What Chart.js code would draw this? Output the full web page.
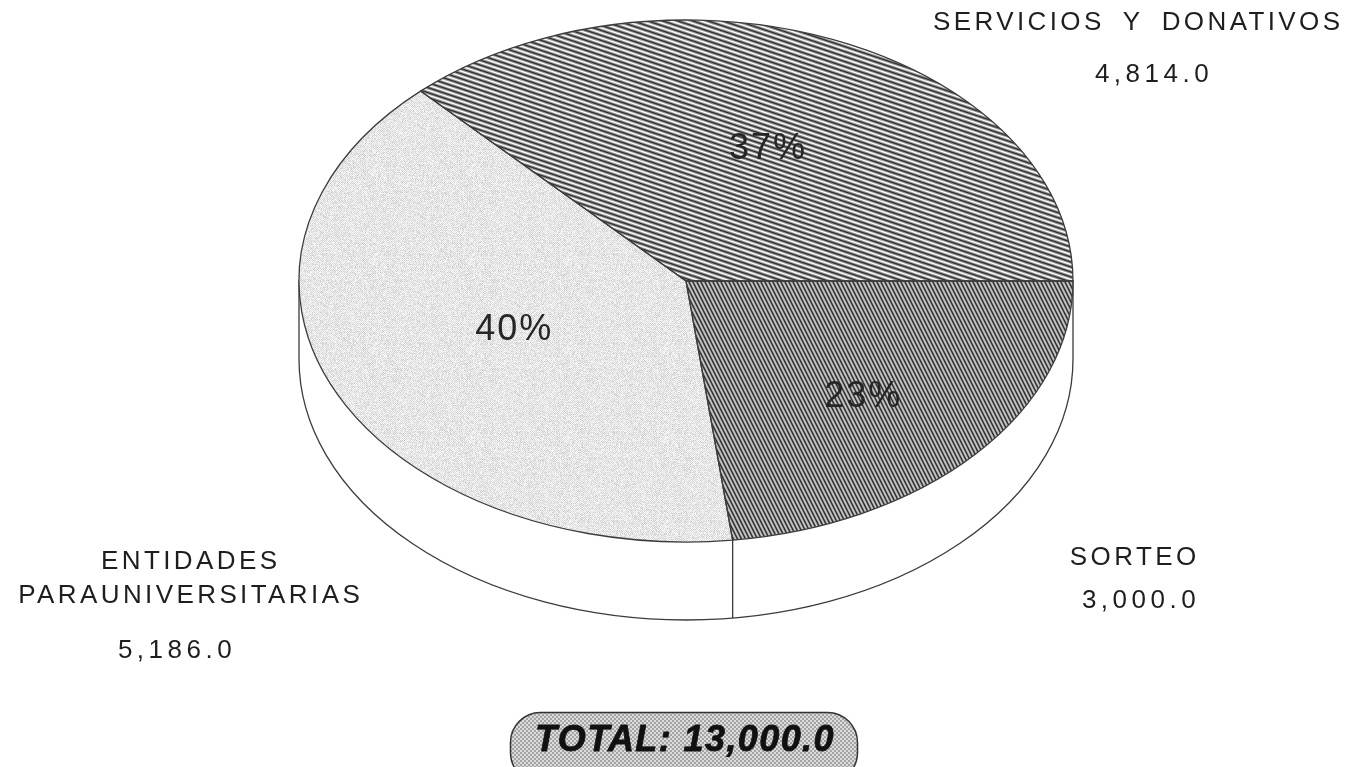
<!DOCTYPE html>
<html><head><meta charset="utf-8">
<script src="https://cdn.jsdelivr.net/npm/chart.js@4"></script>
<style>html,body{margin:0;padding:0;background:#fff;overflow:hidden}#w{position:absolute;left:0;top:0;width:1351px;height:767px}</style>
</head><body><div id="w"><canvas id="c" width="1351" height="767"></canvas></div>
<script>
const categories = ['SORTEO', 'ENTIDADES PARAUNIVERSITARIAS', 'SERVICIOS Y DONATIVOS'];
const values = [3000.0, 5186.0, 4814.0];
const totalLabel = 'TOTAL: 13,000.0';
const total = 13000.0;

const RX = 387, RY = 261, DEPTH = 78;
const LINE = '#3c3c3c';

function tile(w, h, paint) {
  const t = document.createElement('canvas'); t.width = w; t.height = h;
  paint(t.getContext('2d'), w, h); return t;
}
function stripes(w, h, bg, layers) {
  return tile(w, h, (g) => {
    g.fillStyle = bg; g.fillRect(0, 0, w, h);
    layers.forEach(([col, lw, off]) => {
      g.strokeStyle = col; g.lineWidth = lw;
      for (let k = -2; k <= 2; k++) {
        g.beginPath(); g.moveTo(-w, k * h + off - h); g.lineTo(2 * w, k * h + off + 2 * h); g.stroke();
      }
    });
  });
}
function hash(x, y) { const s = Math.sin(x * 12.9898 + y * 78.233) * 43758.5453; return s - Math.floor(s); }
function speckle(w, h) {
  return tile(w, h, (g) => {
    for (let y = 0; y < h; y++) for (let x = 0; x < w; x++) {
      const n = hash(x, y), chk = (x + y) % 2 ? 12 : -12;
      const v = Math.max(0, Math.min(255, 230 + chk + (n - 0.5) * 38));
      g.fillStyle = `rgb(${v},${v},${v})`; g.fillRect(x, y, 1, 1);
    }
  });
}
const ctx0 = document.createElement('canvas').getContext('2d');
const pat = (t) => ctx0.createPattern(t, 'repeat');
const sorteoTile = stripes(4, 8, '#a2a2a2', [['#2e2e2e', 1.3, 0], ['#e6e6e6', 0.7, 4]]);
const serviciosTile = stripes(15, 5, '#989898', [['#303030', 1.2, 0], ['#ffffff', 1.2, 2.5]]);
const entidadesTile = speckle(97, 89);
const totalTile = tile(4, 4, (g) => {
  g.fillStyle = '#dcdcdc'; g.fillRect(0, 0, 4, 4);
  g.fillStyle = '#a4a4a4'; g.fillRect(0, 0, 2, 2); g.fillRect(2, 2, 2, 2);
});
const fills = [pat(sorteoTile), pat(entidadesTile), pat(serviciosTile)];

const pctOffsets = [[0.458, 0.437], [-0.444, 0.180], [0.212, -0.513]];
const outerLabels = [
  { lines: ['SORTEO'], ys: [557], xs: [1133], val: [1139, 600] },
  { lines: ['ENTIDADES', 'PARAUNIVERSITARIAS'], ys: [561, 595], xs: [189, 189], val: [175, 650] },
  { lines: ['SERVICIOS Y DONATIVOS'], ys: [22], xs: [1136.5], val: [1152, 74] }
];
const fmt = (v) => v.toLocaleString('en-US', { minimumFractionDigits: 1, maximumFractionDigits: 1 });

const pie3d = {
  id: 'pie3d',
  beforeDatasetsDraw(chart) {
    const c = chart.ctx, arcs = chart.getDatasetMeta(0).data, a = arcs[0];
    const cx = a.x, cy = a.y, r = a.outerRadius;
    c.save();
    c.beginPath();
    c.moveTo(cx + RX, cy);
    c.lineTo(cx + RX, cy + DEPTH);
    c.ellipse(cx, cy + DEPTH, RX, RY, 0, 0, Math.PI);
    c.lineTo(cx - RX, cy);
    c.closePath();
    c.fillStyle = '#fff'; c.fill();
    c.strokeStyle = LINE; c.lineWidth = 1.3; c.stroke();
    c.restore();
    const sx = RX / r, sy = RY / r;
    fills.forEach(p => p.setTransform(new DOMMatrix().translate(-cx * (1 / sx) + cx, -cy * (1 / sy) + cy).scale(1 / sx, 1 / sy)));
    c.save();
    c.translate(cx, cy); c.scale(sx, sy); c.translate(-cx, -cy);
  },
  afterDatasetsDraw(chart) {
    const c = chart.ctx, arcs = chart.getDatasetMeta(0).data, a0 = arcs[0];
    c.restore();
    const cx = a0.x, cy = a0.y;
    c.strokeStyle = LINE; c.lineWidth = 1.3; c.lineJoin = 'round';
    arcs.forEach(a => {
      c.beginPath();
      c.moveTo(cx, cy);
      c.lineTo(cx + RX * Math.cos(a.startAngle), cy + RY * Math.sin(a.startAngle));
      c.ellipse(cx, cy, RX, RY, 0, a.startAngle, a.endAngle);
      c.closePath();
      c.stroke();
    });
    const e = a0.endAngle, ex = cx + RX * Math.cos(e), ey = cy + RY * Math.sin(e);
    c.beginPath(); c.moveTo(ex, ey); c.lineTo(ex, ey + DEPTH); c.stroke();

    c.textAlign = 'center'; c.textBaseline = 'middle';
    c.fillStyle = '#262626';
    c.font = '36px "Liberation Sans", Arial, sans-serif';
    c.letterSpacing = '2px';
    values.forEach((v, i) => {
      c.fillText(Math.round(v / total * 100) + '%', cx + RX * pctOffsets[i][0], cy + RY * pctOffsets[i][1] + 2);
    });
    c.font = '26px "Liberation Sans", Arial, sans-serif';
    c.fillStyle = '#1e1e1e';
    outerLabels.forEach((o, i) => {
      c.letterSpacing = '3.4px'; c.wordSpacing = '7.5px';
      o.lines.forEach((t, j) => c.fillText(t, o.xs[j] + 1.7, o.ys[j] + 1));
      c.letterSpacing = '4.5px'; c.wordSpacing = '0px';
      c.fillText(fmt(values[i]), o.val[0] + 2, o.val[1] + 1);
    });
    c.letterSpacing = '1.4px';
    c.beginPath();
    c.roundRect(510.5, 712.5, 347, 70, 30);
    c.fillStyle = c.createPattern(totalTile, 'repeat'); c.fill();
    c.strokeStyle = '#333'; c.lineWidth = 1.5; c.stroke();
    c.fillStyle = '#111';
    c.font = 'italic bold 36px "Liberation Sans", Arial, sans-serif';
    c.strokeStyle = '#111'; c.lineWidth = 0.8;
    c.fillText(totalLabel, 685, 741);
    c.strokeText(totalLabel, 685, 741);
  }
};

new Chart(document.getElementById('c'), {
  type: 'pie',
  data: {
    labels: categories,
    datasets: [{ data: values, backgroundColor: fills, borderWidth: 0, clip: false }]
  },
  options: {
    responsive: false,
    animation: false,
    rotation: 90,
    layout: { padding: { left: 21, right: 0, top: 0, bottom: 205 } },
    plugins: { legend: { display: false }, tooltip: { enabled: false }, title: { display: false } },
    events: []
  },
  plugins: [pie3d]
});
</script></body></html>
